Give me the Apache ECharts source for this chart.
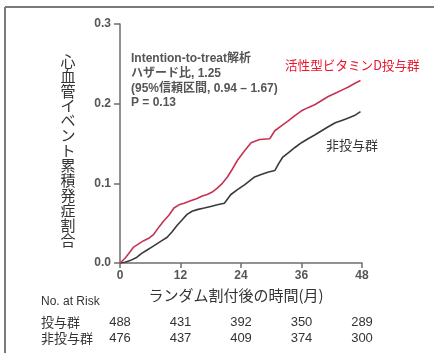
<!DOCTYPE html>
<html>
<head>
<meta charset="utf-8">
<script src="https://cdn.jsdelivr.net/npm/echarts@6/dist/echarts.min.js"></script>
<style>
  html, body { margin: 0; padding: 0; background: #fff; }
  #chart { width: 434px; height: 353px; }
</style>
</head>
<body>
<div id="chart"></div>
<script>
// Cumulative incidence of cardiovascular events (months since randomisation)
const treatedCurve = [
  [0, 0], [1, 0.006], [2, 0.014], [2.7, 0.020], [3.7, 0.024], [4.7, 0.028], [5.7, 0.031],
  [6.7, 0.036], [7.7, 0.045], [8.7, 0.053], [9.7, 0.060], [10.7, 0.069], [11.7, 0.073],
  [12.7, 0.075], [14, 0.078], [15.3, 0.081], [16.3, 0.084], [17.3, 0.086], [18.3, 0.089],
  [19.3, 0.094], [20.3, 0.100], [21.3, 0.108], [22.3, 0.118], [23.3, 0.129], [24.6, 0.140],
  [26, 0.151], [27.7, 0.155], [29.7, 0.156], [30.7, 0.166], [32, 0.172], [33.3, 0.178],
  [34.7, 0.185], [36, 0.191], [37.3, 0.195], [38.7, 0.199], [40, 0.204], [41.3, 0.209],
  [42.7, 0.213], [44, 0.217], [45.3, 0.221], [46.7, 0.226], [47.7, 0.229]
];
const untreatedCurve = [
  [0, 0], [1, 0.001], [2, 0.003], [3.3, 0.007], [4.3, 0.012], [5.3, 0.016], [6.3, 0.020],
  [7.3, 0.024], [8.3, 0.028], [9.3, 0.032], [10.3, 0.039], [11.3, 0.047], [12.3, 0.054],
  [13.3, 0.061], [14.3, 0.065], [15.3, 0.067], [16.7, 0.069], [18, 0.071], [19.3, 0.073],
  [20.7, 0.075], [22, 0.086], [23.3, 0.092], [24.7, 0.098], [25.7, 0.103], [26.7, 0.108],
  [28, 0.111], [29.3, 0.114], [30.7, 0.116], [31.5, 0.125], [32.3, 0.133], [33.5, 0.139],
  [34.7, 0.145], [36, 0.151], [37.3, 0.156], [38.7, 0.161], [40, 0.166], [41.3, 0.171],
  [42.7, 0.176], [44, 0.179], [45.3, 0.182], [46.5, 0.185], [47.7, 0.190]
];

const monthTicks = [0, 12, 24, 36, 48];
const riskTreated = [488, 431, 392, 350, 289];
const riskUntreated = [476, 437, 409, 374, 300];

const yTitle = '心血管イベント累積発症割合';
const xTitle = 'ランダム割付後の時間(月)';
const statsLines = ['Intention-to-treat解析', 'ハザード比, 1.25', '(95%信頼区間, 0.94 – 1.67)', 'P = 0.13'];
const treatedName = '活性型ビタミンD投与群';
const untreatedName = '非投与群';
const treatedRowName = '投与群';

const FONT = '"Noto Sans CJK JP", "Noto Sans", sans-serif';
const LATIN_FONT = '"Liberation Sans", "Noto Sans CJK JP", sans-serif';
const RED_LINE = '#c43452';
const DARK_LINE = '#3a3a3a';
const AXIS = '#6e6e6e';

const chart = echarts.init(document.getElementById('chart'));

chart.setOption({
  animation: false,
  backgroundColor: '#ffffff',
  grid: { left: 120, right: 72, top: 24, bottom: 90 },
  xAxis: {
    type: 'value', min: 0, max: 48, interval: 12,
    axisLine: { show: true, lineStyle: { color: AXIS, width: 1.5 } },
    axisTick: { show: true, length: 5, lineStyle: { color: AXIS, width: 1.5 } },
    axisLabel: {
      color: '#555', fontSize: 12, fontWeight: 'bold', fontFamily: 'Liberation Sans, sans-serif', margin: 7,
      formatter: v => monthTicks.includes(v) ? String(v) : ''
    },
    splitLine: { show: false }
  },
  yAxis: {
    type: 'value', min: 0, max: 0.3, interval: 0.1,
    axisLine: { show: true, lineStyle: { color: AXIS, width: 1.5 } },
    axisTick: { show: true, length: 6, lineStyle: { color: AXIS, width: 1.5 } },
    axisLabel: {
      color: '#555', fontSize: 12, fontWeight: 'bold', fontFamily: 'Liberation Sans, sans-serif', margin: 9,
      formatter: v => v.toFixed(1)
    },
    splitLine: { show: false }
  },
  series: [
    {
      name: treatedName, type: 'line', data: treatedCurve, showSymbol: false,
      lineStyle: { color: RED_LINE, width: 1.6 }, z: 3
    },
    {
      name: untreatedName, type: 'line', data: untreatedCurve, showSymbol: false,
      lineStyle: { color: DARK_LINE, width: 1.6 }, z: 2
    }
  ]
});

// Annotations, titles and the number-at-risk table, placed from the axis scales
const px = (x, y) => chart.convertToPixel({ gridIndex: 0 }, [x, y]);
const graphics = [];

// frame lines
graphics.push({ type: 'line', shape: { x1: 5, y1: 7, x2: 434, y2: 7 }, style: { stroke: '#7a7a7a', lineWidth: 2 } });
graphics.push({ type: 'line', shape: { x1: 5, y1: 7, x2: 5, y2: 353 }, style: { stroke: '#7a7a7a', lineWidth: 2 } });

// vertical y-axis title, one character per line
const yChars = yTitle.split('');
yChars.forEach((ch, i) => {
  graphics.push({
    type: 'text', x: 68, y: 61 + i * 14.9,
    style: { text: ch, font: '15px ' + FONT, fill: '#333', align: 'center', verticalAlign: 'middle' }
  });
});

// statistics block
statsLines.forEach((line, i) => {
  graphics.push({
    type: 'text', x: 131, y: 59 + i * 14.7,
    style: { text: line, font: 'bold 12px ' + LATIN_FONT, fill: '#555', verticalAlign: 'middle' }
  });
});

// series labels
graphics.push({
  type: 'text', x: 285, y: 65,
  style: { text: treatedName, font: '12.6px ' + FONT, fill: '#e8152b', verticalAlign: 'middle' }
});
graphics.push({
  type: 'text', x: 326, y: 145,
  style: { text: untreatedName, font: '13px ' + FONT, fill: '#333', verticalAlign: 'middle' }
});

// x-axis title
graphics.push({
  type: 'text', x: 236, y: 295,
  style: { text: xTitle, font: '15px ' + FONT, fill: '#333', align: 'center', verticalAlign: 'middle' }
});

// number at risk
graphics.push({
  type: 'text', x: 41, y: 302,
  style: { text: 'No. at Risk', font: '12px ' + LATIN_FONT, fill: '#333', verticalAlign: 'middle' }
});
graphics.push({
  type: 'text', x: 41, y: 322,
  style: { text: treatedRowName, font: '13px ' + FONT, fill: '#333', verticalAlign: 'middle' }
});
graphics.push({
  type: 'text', x: 41, y: 338,
  style: { text: untreatedName, font: '13px ' + FONT, fill: '#333', verticalAlign: 'middle' }
});
monthTicks.forEach((m, i) => {
  const cx = px(m, 0)[0];
  graphics.push({
    type: 'text', x: cx, y: 322,
    style: { text: String(riskTreated[i]), font: '13px "Liberation Sans", sans-serif', fill: '#333', align: 'center', verticalAlign: 'middle' }
  });
  graphics.push({
    type: 'text', x: cx, y: 338,
    style: { text: String(riskUntreated[i]), font: '13px "Liberation Sans", sans-serif', fill: '#333', align: 'center', verticalAlign: 'middle' }
  });
});

chart.setOption({ graphic: graphics });
</script>
</body>
</html>
